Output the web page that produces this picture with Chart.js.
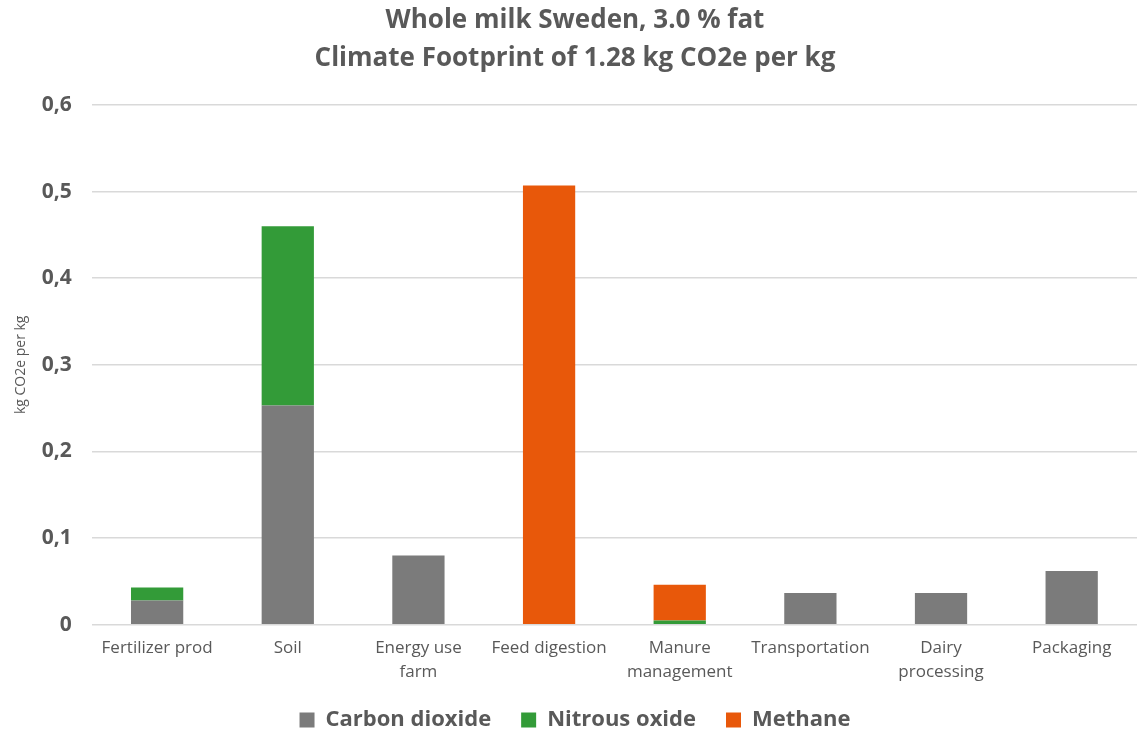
<!DOCTYPE html>
<html>
<head>
<meta charset="utf-8">
<script src="https://cdn.jsdelivr.net/npm/chart.js@4.4.1/dist/chart.umd.min.js"></script>
<style>
  html, body { margin: 0; padding: 0; background: #ffffff; }
  #wrap { width: 1139px; height: 733px; position: relative; }
</style>
</head>
<body>
<div id="wrap"><canvas id="chart" width="1139" height="733"></canvas></div>
<script>
// Emission sources (multi-line labels as arrays)
const categories = [
  'Fertilizer prod',
  'Soil',
  ['Energy use', 'farm'],
  'Feed digestion',
  ['Manure', 'management'],
  'Transportation',
  ['Dairy', 'processing'],
  'Packaging'
];

// kg CO2e per kg milk, by gas
const carbonDioxide = [0.028, 0.253, 0.080, 0, 0, 0.0365, 0.0365, 0.062];
const nitrousOxide  = [0.015, 0.207, 0, 0, 0.005, 0, 0, 0];
const methane       = [0, 0, 0, 0.507, 0.041, 0, 0, 0];

const yTicks = [0, 0.1, 0.2, 0.3, 0.4, 0.5, 0.6];

const FONT = "'Open Sans', 'Noto Sans', sans-serif";
const TEXT = '#595959';

// Legend keeps wide spacing between items but sits closer to the axis labels
const LEGEND_LIFT = 8;
const legendLift = {
  id: 'legendLift',
  afterLayout(chart) {
    const lg = chart.legend;
    if (lg) { lg.top -= LEGEND_LIFT; lg.bottom -= LEGEND_LIFT; }
  }
};

new Chart(document.getElementById('chart'), {
  type: 'bar',
  data: {
    labels: categories,
    datasets: [
      { label: 'Carbon dioxide', data: carbonDioxide, backgroundColor: '#7b7b7b' },
      { label: 'Nitrous oxide',  data: nitrousOxide,  backgroundColor: '#339b38' },
      { label: 'Methane',        data: methane,       backgroundColor: '#e8580a' }
    ]
  },
  plugins: [legendLift],
  options: {
    responsive: false,
    animation: false,
    layout: { padding: { left: 13, right: 2, top: 0, bottom: -16 } },
    datasets: { bar: { categoryPercentage: 1.0, barPercentage: 0.4 } },
    plugins: {
      title: {
        display: true,
        text: ['Whole milk Sweden, 3.0 % fat', 'Climate Footprint of 1.28 kg CO2e per kg'],
        color: TEXT,
        font: { family: FONT, size: 26, weight: 'bold', lineHeight: 1.46 },
        padding: { top: 2, bottom: 27 }
      },
      legend: {
        position: 'bottom',
        labels: {
          color: TEXT,
          font: { family: FONT, size: 22, weight: 'bold' },
          boxWidth: 15,
          boxHeight: 15,
          padding: 30
        }
      },
      tooltip: { enabled: false }
    },
    scales: {
      x: {
        stacked: true,
        grid: { display: false },
        border: { display: false },
        ticks: {
          color: TEXT,
          font: { family: FONT, size: 17, lineHeight: 1.42 },
          maxRotation: 0,
          autoSkip: false,
          padding: 3
        }
      },
      y: {
        stacked: true,
        min: 0,
        max: 0.6,
        afterBuildTicks: (axis) => { axis.ticks = yTicks.map(v => ({ value: v })); },
        afterFit: (scale) => { scale.width -= 8; },
        grid: { color: '#d9d9d9', lineWidth: 1.5, drawTicks: false },
        border: { display: false },
        title: {
          display: true,
          text: 'kg CO2e per kg',
          color: TEXT,
          font: { family: FONT, size: 14 },
          padding: { top: 0, bottom: 0 }
        },
        ticks: {
          color: TEXT,
          font: { family: FONT, size: 21, weight: 'bold' },
          padding: 20,
          callback: (v) => v === 0 ? '0' : v.toFixed(1).replace('.', ',')
        }
      }
    }
  }
});
</script>
</body>
</html>
